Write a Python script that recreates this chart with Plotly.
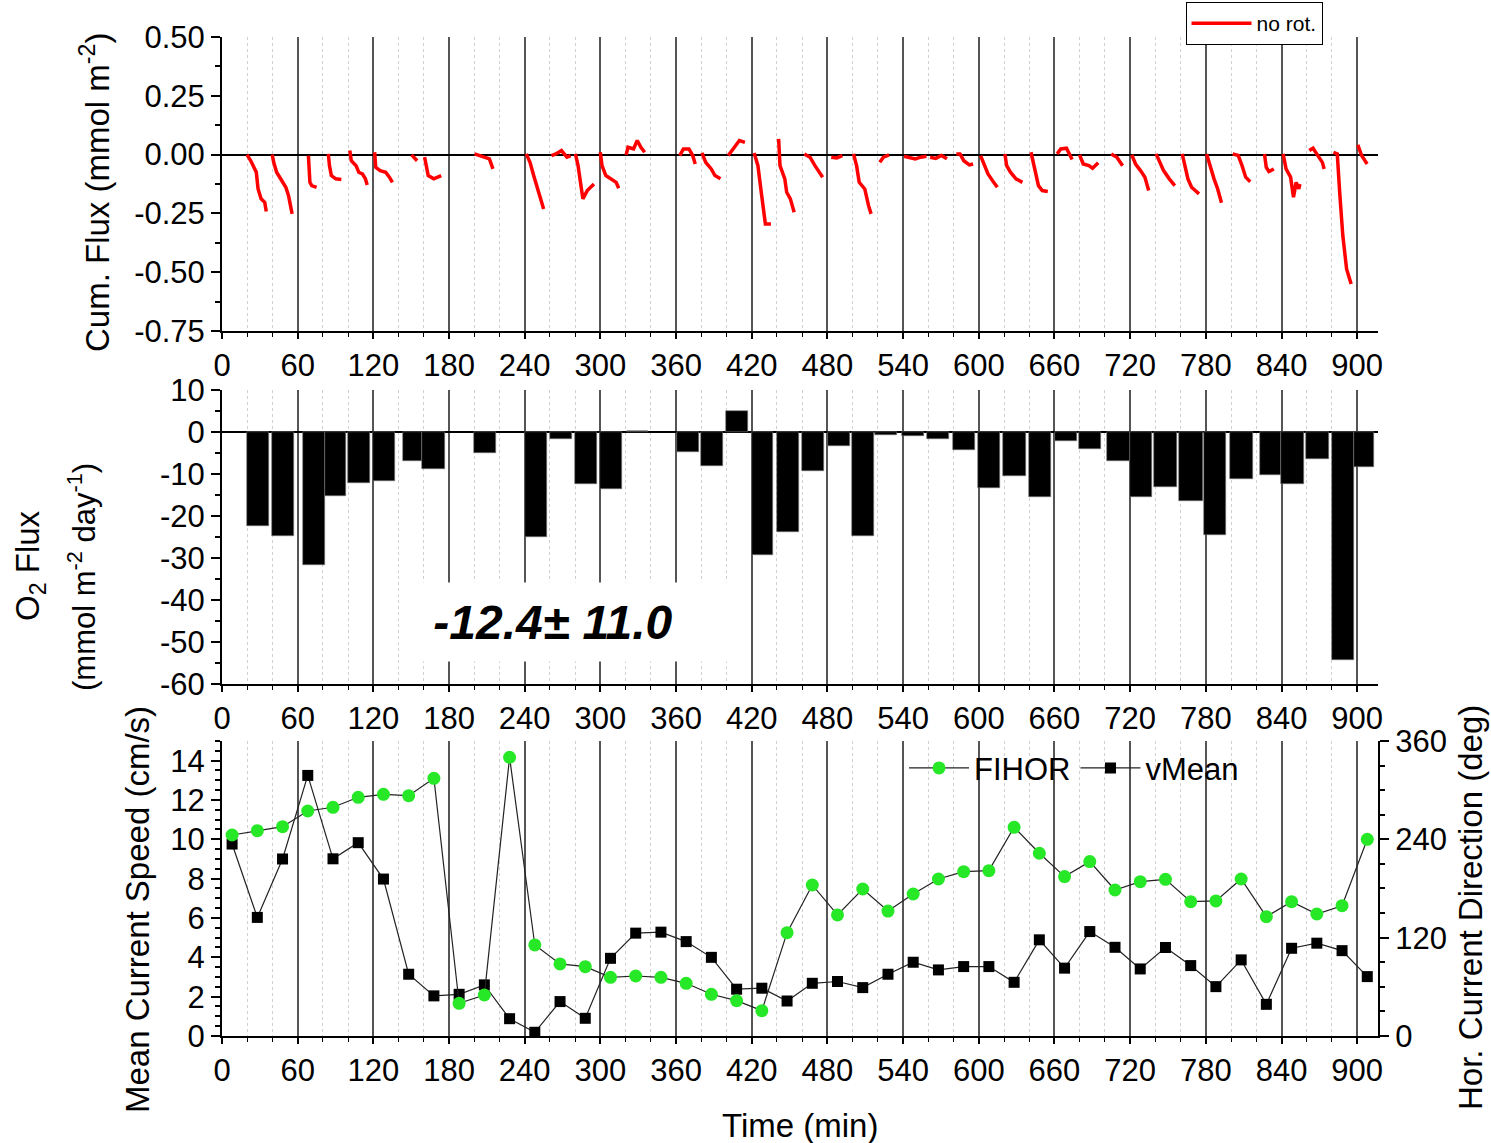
import plotly.graph_objects as go

# ---------------- DATA ----------------
# Top panel: cumulative O2 flux segments (time in min, value in mmol m-2)
cum_t = [
    [19.8, 22.8, 27.2, 28.6, 31.0, 33.9, 35.1],
    [39.8, 41.0, 43.3, 46.2, 50.6, 52.7, 55.6],
    [68.5, 69.1, 69.7, 71.1, 75.0],
    [84.3, 85.2, 86.7, 90.2, 94.6],
    [101.3, 102.5, 106.3, 108.4, 111.3, 113.7, 115.1],
    [121.0, 121.9, 125.4, 129.8, 132.7, 135.1],
    [150.3, 152.5, 154.7],
    [160.6, 162.1, 163.5, 167.9, 173.8],
    [200.2, 204.6, 209.0, 212.0, 214.8],
    [241.2, 244.2, 247.1, 250.0, 253.0, 255.0],
    [261.2, 264.7, 269.1, 273.5, 276.4],
    [280.2, 282.3, 283.8, 286.1, 289.6, 294.9],
    [299.9, 301.3, 304.3, 308.7, 312.5, 314.5],
    [320.4, 321.9, 326.3, 329.2, 332.1, 335.1],
    [362.9, 365.8, 370.2, 373.2, 375.2],
    [380.5, 383.5, 387.9, 390.8, 395.2],
    [401.4, 405.8, 410.2, 414.6],
    [421.9, 424.9, 427.2, 429.3, 430.8, 435.2],
    [441.3, 442.4, 446.2, 447.7, 450.6, 453.6],
    [461.7, 466.2, 470.1, 472.8, 476.2],
    [483.0, 487.4, 491.8],
    [500.7, 503.1, 505.2, 509.6, 512.6, 514.6],
    [521.5, 524.4, 528.9],
    [540.7, 545.1, 549.6, 554.0, 558.5],
    [561.4, 565.9, 570.3, 574.8],
    [582.2, 585.1, 588.1, 592.5, 595.5],
    [601.4, 605.0, 607.3, 611.8, 614.7],
    [620.7, 622.1, 625.1, 629.5, 634.6],
    [641.4, 644.3, 647.3, 650.3, 654.7],
    [662.1, 665.0, 669.5, 674.0],
    [679.9, 682.8, 687.3, 690.2, 694.7],
    [705.0, 709.5, 714.0],
    [721.3, 724.3, 728.2, 731.7, 734.7],
    [740.6, 743.5, 746.5, 751.0, 755.4],
    [761.3, 763.7, 765.8, 768.7, 774.6],
    [780.6, 783.5, 786.5, 789.4, 792.4],
    [801.3, 805.7, 808.7, 811.6, 815.2],
    [826.5, 827.9, 830.0, 833.9],
    [841.3, 843.6, 847.2, 849.5, 851.6, 853.7, 854.6],
    [862.0, 865.0, 867.9, 872.4, 873.8],
    [881.2, 884.2, 886.3, 888.6, 891.6, 895.2],
    [900.5, 903.5, 907.9],
]
cum_v = [
    [0.0, -0.026, -0.075, -0.146, -0.188, -0.203, -0.242],
    [0.0, -0.033, -0.075, -0.103, -0.139, -0.174, -0.252],
    [-0.004, -0.061, -0.118, -0.132, -0.139],
    [0.003, -0.047, -0.089, -0.103, -0.106],
    [0.017, -0.026, -0.047, -0.075, -0.082, -0.103, -0.129],
    [0.010, -0.054, -0.068, -0.075, -0.096, -0.118],
    [-0.001, -0.012, -0.026],
    [-0.011, -0.050, -0.089, -0.103, -0.089],
    [0.003, -0.004, -0.011, -0.018, -0.061],
    [0.003, -0.033, -0.089, -0.139, -0.196, -0.231],
    [-0.004, 0.003, 0.017, -0.011, -0.004],
    [0.003, -0.047, -0.103, -0.188, -0.153, -0.125],
    [0.010, -0.047, -0.089, -0.103, -0.118, -0.143],
    [-0.001, 0.031, 0.024, 0.060, 0.031, 0.010],
    [-0.004, 0.024, 0.024, -0.004, -0.040],
    [0.007, -0.033, -0.061, -0.089, -0.103],
    [-0.004, 0.031, 0.060, 0.052],
    [0.007, -0.047, -0.146, -0.245, -0.295, -0.295],
    [0.067, -0.047, -0.103, -0.160, -0.188, -0.245],
    [0.003, -0.011, -0.047, -0.068, -0.096],
    [-0.011, -0.014, -0.004],
    [0.003, -0.047, -0.118, -0.146, -0.217, -0.252],
    [-0.033, -0.011, -0.001],
    [-0.007, -0.011, -0.018, -0.011, -0.007],
    [-0.011, -0.016, -0.004, -0.018],
    [0.003, 0.003, -0.026, -0.044, -0.040],
    [-0.004, -0.047, -0.082, -0.118, -0.139],
    [0.003, -0.047, -0.075, -0.103, -0.118],
    [0.010, -0.061, -0.132, -0.153, -0.157],
    [0.003, 0.024, 0.027, -0.021],
    [-0.001, -0.040, -0.047, -0.058, -0.035],
    [0.003, -0.011, -0.047],
    [-0.001, -0.040, -0.068, -0.096, -0.153],
    [0.003, -0.033, -0.068, -0.103, -0.132],
    [0.003, -0.047, -0.103, -0.139, -0.167],
    [0.003, -0.054, -0.103, -0.146, -0.205],
    [0.003, -0.004, -0.047, -0.096, -0.115],
    [0.003, -0.054, -0.072, -0.061],
    [0.003, -0.061, -0.096, -0.181, -0.118, -0.146, -0.125],
    [0.017, 0.027, 0.003, -0.033, -0.061],
    [0.010, 0.003, -0.174, -0.344, -0.486, -0.550],
    [0.041, -0.004, -0.040],
]

# Middle panel: O2 flux per measurement window (mmol m-2 day-1)
win_start = [19.6, 39.4, 64.0, 81.9, 99.7, 120.0, 143.7, 158.8, 199.8, 240.2,
             260.0, 279.9, 299.7, 320.8, 360.5, 379.5, 399.6, 420.0, 439.8, 459.7,
             480.7, 499.8, 517.8, 539.5, 559.3, 579.4, 599.2, 619.5, 640.0, 660.6,
             679.8, 701.5, 720.0, 739.3, 759.1, 778.7, 799.3, 822.9, 839.8, 859.6,
             880.0, 897.1]
win_end = [37.3, 57.1, 81.9, 98.3, 117.3, 137.2, 158.8, 176.8, 217.2, 257.9,
           277.2, 297.5, 317.4, 338.0, 378.4, 397.4, 417.3, 437.1, 457.5, 477.4,
           497.9, 517.3, 535.0, 556.9, 576.7, 597.1, 616.9, 637.3, 657.4, 677.8,
           697.0, 720.0, 737.2, 757.0, 777.4, 795.9, 817.0, 839.8, 857.5, 877.3,
           897.1, 913.5]
o2_flux = [-22.3, -24.7, -31.6, -15.3, -12.2, -11.6, -6.9, -8.8, -5.1, -25.0,
           -1.6, -12.5, -13.6, 0.3, -4.7, -8.2, 5.1, -29.4, -23.9, -9.2,
           -3.3, -24.8, -0.6, -1.0, -1.6, -4.4, -13.4, -10.6, -15.5, -2.2,
           -4.0, -7.0, -15.5, -13.2, -16.4, -24.5, -11.3, -10.3, -12.5, -6.4,
           -54.2, -8.3]
flux_label = "-12.4\u00b1 11.0"

# Bottom panel: current speed and direction
t_cur = [8, 28, 48, 68, 88, 108, 128, 148, 168, 188, 208, 228, 248, 268, 288, 308,
         328, 348, 368, 388, 408, 428, 448, 468, 488, 508, 528, 548, 568, 588, 608,
         628, 648, 668, 688, 708, 728, 748, 768, 788, 808, 828, 848, 868, 888, 908]
v_mean = [9.76, 6.03, 9.0, 13.25, 9.01, 9.83, 7.98, 3.14, 2.04, 2.12,
          2.6, 0.88, 0.19, 1.75, 0.9, 3.95, 5.23, 5.28, 4.8, 4.0,
          2.38, 2.43, 1.78, 2.68, 2.77, 2.46, 3.14, 3.75, 3.36, 3.53,
          3.53, 2.73, 4.89, 3.45, 5.31, 4.51, 3.41, 4.5, 3.58, 2.51,
          3.87, 1.61, 4.46, 4.72, 4.34, 3.02]
fihor = [245.3, 250.6, 255.4, 274.6, 279.1, 291.3, 294.9, 293.3, 314.5, 39.9,
         50.0, 340.1, 111.1, 87.9, 84.6, 71.6, 73.2, 71.6, 64.3, 50.9,
         43.1, 30.9, 126.1, 184.3, 147.7, 179.4, 152.5, 173.3, 191.6, 200.5,
         201.8, 254.7, 223.0, 194.5, 212.8, 178.2, 188.3, 191.2, 163.9, 164.8,
         191.6, 145.6, 163.9, 148.9, 159.0, 240.0]

cum_ticks = [-0.75, -0.5, -0.25, 0.0, 0.25, 0.5]
flux_ticks = [-60, -50, -40, -30, -20, -10, 0, 10]
dir_ticks = [0, 120, 240, 360]

# ---------------- FIGURE ----------------
FONT = "Liberation Sans, Arial, sans-serif"
TICK = 31
TITLE = 33

fig = go.Figure()

xs, ys = [], []
for t, v in zip(cum_t, cum_v):
    xs += t + [None]
    ys += v + [None]
fig.add_trace(go.Scatter(x=xs, y=ys, mode="lines", name="no rot.",
                         line=dict(color="#ff0000", width=3.5),
                         xaxis="x", yaxis="y", legend="legend"))

centers = [(s + e) / 2 for s, e in zip(win_start, win_end)]
widths = [e - s for s, e in zip(win_start, win_end)]
fig.add_trace(go.Bar(x=centers, y=o2_flux, width=widths,
                     marker=dict(color="black", line=dict(width=0.6, color="#777")),
                     xaxis="x2", yaxis="y2", showlegend=False))

fig.add_trace(go.Scatter(x=t_cur, y=v_mean, mode="lines+markers", name="vMean",
                         line=dict(color="#222222", width=1.2),
                         marker=dict(symbol="square", size=11, color="black"),
                         xaxis="x3", yaxis="y3", legend="legend2", legendrank=2))
fig.add_trace(go.Scatter(x=t_cur, y=fihor, mode="lines+markers", name="FIHOR",
                         line=dict(color="#222222", width=1.2),
                         marker=dict(symbol="circle", size=13, color="#26e826"),
                         xaxis="x3", yaxis="y4", legend="legend2", legendrank=1))


def xax(anchor):
    return dict(range=[0, 916.5], domain=[0, 1], anchor=anchor,
                tickmode="linear", tick0=0, dtick=60,
                ticks="outside", ticklen=6, tickwidth=1.5, tickcolor="black",
                showline=True, linecolor="black", linewidth=2,
                showgrid=True, gridcolor="#555555", gridwidth=1.5, zeroline=False,
                tickfont=dict(size=TICK, color="black", family=FONT),
                minor=dict(tick0=0, dtick=20, ticks="outside", ticklen=4,
                           tickcolor="black", tickwidth=1.2,
                           showgrid=True, gridcolor="#cfcfcf", griddash="dot",
                           gridwidth=1))


def yax(domain, rng, anchor, **kw):
    d = dict(domain=domain, range=rng, anchor=anchor,
             ticks="outside", ticklen=9, tickwidth=1.5, tickcolor="black",
             showline=True, linecolor="black", linewidth=2,
             showgrid=False, tickfont=dict(size=TICK, color="black", family=FONT))
    d.update(kw)
    return d


fig.update_layout(
    width=1491, height=1143,
    margin=dict(l=222, r=113, t=37, b=107, autoexpand=False),
    plot_bgcolor="white", paper_bgcolor="white",
    font=dict(family=FONT, color="black"),
    bargap=0,
    xaxis=xax("y"), xaxis2=xax("y2"), xaxis3=xax("y3"),
    yaxis=yax([0.7057, 1], [-0.75, 0.5], "x",
              tickmode="array", tickvals=cum_ticks,
              ticktext=[("%.2f" % v) for v in cum_ticks],
              zeroline=True, zerolinecolor="black", zerolinewidth=2,
              minor=dict(tick0=0, dtick=0.125, ticks="outside", ticklen=5,
                         tickcolor="black")),
    yaxis2=yax([0.3524, 0.6466], [-60, 10], "x2",
               tickmode="array", tickvals=flux_ticks,
               ticktext=[str(v) for v in flux_ticks],
               zeroline=True, zerolinecolor="black", zerolinewidth=2,
               minor=dict(tick0=0, dtick=5, ticks="outside", ticklen=5,
                          tickcolor="black")),
    yaxis3=yax([0, 0.2953], [0, 15], "x3",
               tickmode="linear", tick0=0, dtick=2, zeroline=False,
               minor=dict(tick0=0, dtick=0.5, ticks="outside", ticklen=5,
                          tickcolor="black")),
    yaxis4=yax([0, 0.2953], [0, 360], "x3", overlaying="y3", side="right",
               tickmode="array", tickvals=dir_ticks,
               ticktext=[str(v) for v in dir_ticks], zeroline=False,
               minor=dict(tick0=0, dtick=30, ticks="outside", ticklen=5,
                          tickcolor="black")),
    legend=dict(x=0.952, xanchor="right", y=1.035, yanchor="top",
                bordercolor="black", borderwidth=1, bgcolor="white",
                font=dict(size=21, family=FONT, color="black"),
                itemwidth=60, tracegroupgap=0),
    legend2=dict(orientation="h", x=0.590, xanchor="left", y=0.268,
                 yanchor="middle", bgcolor="rgba(0,0,0,0)",
                 font=dict(size=31, family=FONT, color="black"),
                 itemwidth=60),
    showlegend=True,
)

ann = [
    dict(text="Cum. Flux (mmol m<sup>-2</sup>)", x=-0.1099, y=0.8448,
         textangle=-90, font=dict(size=TITLE)),
    dict(text="O<sub>2</sub> Flux", x=-0.1661, y=0.4715,
         textangle=-90, font=dict(size=TITLE)),
    dict(text="(mmol m<sup>-2</sup> day<sup>-1</sup>)", x=-0.1211, y=0.4595,
         textangle=-90, font=dict(size=31)),
    dict(text="Mean Current Speed (cm/s)", x=-0.0735, y=0.1261,
         textangle=-90, font=dict(size=TITLE)),
    dict(text="Hor. Current Direction (deg)", x=1.0796, y=0.1281,
         textangle=-90, font=dict(size=TITLE)),
    dict(text="Time (min)", x=0.5, y=-0.0891, font=dict(size=TITLE)),
]
for a in ann:
    a.update(xref="paper", yref="paper", showarrow=False,
             xanchor="center", yanchor="middle")
    a["font"].update(family=FONT, color="black")
fig.update_layout(annotations=ann)

fig.add_annotation(text="<b><i>\u00a0" + flux_label + "</i></b>",
                   xref="x2", yref="y2", x=279.5, y=-45.2,
                   showarrow=False, width=309, height=78, align="left",
                   bgcolor="white", borderpad=0,
                   font=dict(size=48, family=FONT, color="black"))

fig.write_html("out.html")
